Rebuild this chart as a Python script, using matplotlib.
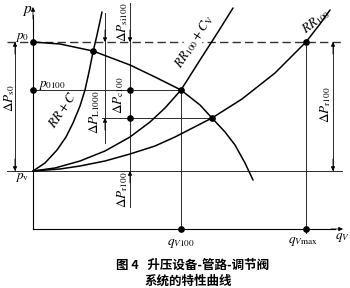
import numpy as np
import matplotlib.pyplot as plt

plt.rcParams['mathtext.fontset'] = 'stix'

# levels (schematic units: q to the right, p upwards)
p_0 = 187
p_0100 = 139
p_c100 = 111
p_v = 58
q_V100 = 148
q_cross = 179
q_Vmax = 273
q_dp = 97
q_L = 72
q_s0 = -18
q_r = 300

# characteristic curves
rrc_q = [0, 12, 24, 33, 40, 47, 52, 56, 60, 64, 69]
rrc_p = [58, 66, 79, 92, 106, 123, 139, 157, 177, 194, 217]

rrcv_q = [0, 22, 47, 72, 97, 117, 132, 148, 167, 185, 200]
rrcv_p = [58, 61, 68, 78, 92, 107, 121, 139, 169, 197, 221]

rr_q = [0, 27, 47, 72, 97, 122, 142, 179, 209, 242, 273, 287, 297]
rr_p = [58, 60, 63, 68, 75, 83, 92, 111, 130, 156, 187, 205, 219]

pump_q = [0, 27, 60, 97, 122, 148, 167, 179, 192, 202, 212, 220]
pump_p = [187, 185, 178, 164, 152, 139, 124, 111, 97, 84, 66, 49]

dots_q = [0, 0, 60, q_V100, q_dp, q_dp, q_cross, q_Vmax, q_V100, q_Vmax]
dots_p = [p_0, p_0100, 178, p_0100, p_0100, p_c100, p_c100, p_0, 0, 0]

fig = plt.figure(figsize=(3.5, 2.88), dpi=100)
ax = fig.add_axes([0, 0, 1, 1])
ax.set_xlim(-33, 317)
ax.set_ylim(-59, 229)
ax.axis('off')

thin = dict(color='#2a2a2a', lw=0.7)
arr = dict(arrowstyle='-|>', color='k', lw=0.6, mutation_scale=6, shrinkA=0, shrinkB=0)

# axes with arrows
ax.plot([0, 0], [0, 214], color='k', lw=0.8)
ax.plot([0, 302], [0, 0], color='k', lw=0.8)
ax.annotate('', xy=(0, 222), xytext=(0, 210), arrowprops=arr)
ax.annotate('', xy=(310, 0), xytext=(298, 0), arrowprops=arr)

# reference levels
ax.plot([-26, 309], [p_0, p_0], color='#333333', lw=1.0, dashes=(6, 3))
ax.plot([-26, 309], [p_v, p_v], **thin)
ax.plot([0, q_V100], [p_0100, p_0100], **thin)
ax.plot([69, q_cross], [p_c100, p_c100], **thin)
ax.plot([q_V100, q_V100], [p_0100, 0], **thin)
ax.plot([q_Vmax, q_Vmax], [p_0, -4], **thin)
ax.plot([q_dp, q_dp], [226, 22], **thin)
ax.plot([q_L, q_L], [216, 86], **thin)
ax.plot([q_s0, q_s0], [p_0, p_v], **thin)
ax.plot([q_r, q_r], [p_0, p_v], **thin)

# dimension arrows
ax.annotate('', xy=(q_dp, p_0), xytext=(q_dp, p_0 + 12), arrowprops=arr)
ax.annotate('', xy=(q_dp, p_v), xytext=(q_dp, p_v - 12), arrowprops=arr)
ax.annotate('', xy=(q_L, p_0), xytext=(q_L, p_0 + 12), arrowprops=arr)
ax.annotate('', xy=(q_L, p_c100), xytext=(q_L, p_c100 - 12), arrowprops=arr)
ax.annotate('', xy=(q_s0, p_0), xytext=(q_s0, p_0 - 12), arrowprops=arr)
ax.annotate('', xy=(q_s0, p_v), xytext=(q_s0, p_v + 12), arrowprops=arr)
ax.annotate('', xy=(q_r, p_0), xytext=(q_r, p_0 - 12), arrowprops=arr)
ax.annotate('', xy=(q_r, p_v), xytext=(q_r, p_v + 12), arrowprops=arr)

# curves
for cq, cp in [(rrc_q, rrc_p), (rrcv_q, rrcv_p), (rr_q, rr_p), (pump_q, pump_p)]:
    ax.plot(cq, cp, color='k', lw=1.1, solid_capstyle='round')

ax.plot(dots_q, dots_p, 'o', color='k', ms=3.8)

# labels
fs = 9.5
ax.text(-6, 219, r'$p$', fontsize=11, ha='center', va='center')
ax.text(-11, 192, r'$p_0$', fontsize=fs, ha='center', va='center')
ax.text(5, 143, r'$p_{0100}$', fontsize=fs, ha='left', va='center')
ax.text(-11, 51, r'$p_{\rm v}$', fontsize=fs, ha='center', va='center')
ax.text(148, -14, r'$q_{V100}$', fontsize=fs, ha='center', va='center')
ax.text(270, -12, r'$q_{V\rm max}$', fontsize=fs, ha='center', va='center')
ax.text(309, -9, r'$q_V$', fontsize=fs, ha='center', va='center')

ax.text(29, 119, r'$RR+C$', fontsize=fs, rotation=56, ha='center', va='center')
ax.text(161, 188, r'$RR_{100}+C_{\rm V}$', fontsize=fs, rotation=57,
        ha='center', va='center',
        bbox=dict(facecolor='white', edgecolor='none', pad=0.3))
ax.text(283, 208, r'$RR_{100}$', fontsize=fs, rotation=38, ha='center', va='center')

ax.text(-23, 131, r'$\Delta P_{\rm s0}$', fontsize=fs, rotation=90, ha='center', va='center')
ax.text(62, 117, r'$\Delta P_{\rm L1000}$', fontsize=fs, rotation=90, ha='center', va='center')
ax.text(86, 134, r'$\Delta P_{\rm c100}$', fontsize=fs, rotation=90, ha='center', va='center')
ax.text(90, 207, r'$\Delta P_{\rm si100}$', fontsize=fs, rotation=90, ha='center', va='center')
ax.text(90, 39, r'$\Delta P_{\rm r100}$', fontsize=fs, rotation=90, ha='center', va='center')
ax.text(293, 124, r'$\Delta P_{\rm r100}$', fontsize=fs, rotation=90, ha='center', va='center')

cjk = ['Noto Sans CJK SC', 'DejaVu Sans']
fig.text(193 / 350, 1 - 265 / 288, '图 4   升压设备-管路-调节阀', family=cjk,
         fontsize=9, fontweight='bold', ha='center', va='center')
fig.text(188 / 350, 1 - 281 / 288, '系统的特性曲线', family=cjk,
         fontsize=9, fontweight='bold', ha='center', va='center')

plt.savefig('out.png', dpi=100)
